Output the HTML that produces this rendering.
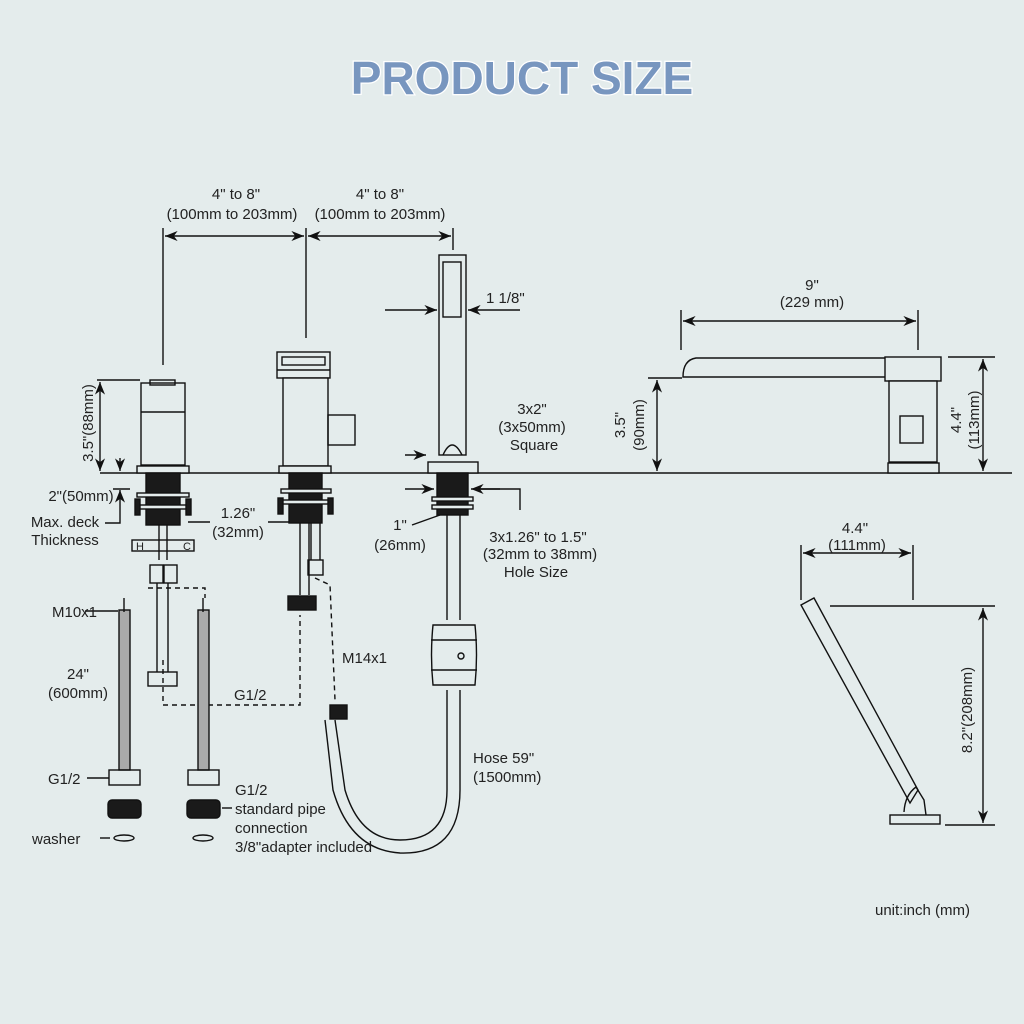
<!DOCTYPE html>
<html><head><meta charset="utf-8"><style>
html,body{margin:0;padding:0;background:#e4ecec}
svg{display:block}
text{font-family:"Liberation Sans",sans-serif;fill:#222;font-size:15px}
</style></head><body>
<svg width="1024" height="1024" viewBox="0 0 1024 1024" xmlns="http://www.w3.org/2000/svg">
<defs>
<marker id="a" viewBox="0 0 10 10" refX="10" refY="5" markerWidth="9" markerHeight="9" orient="auto-start-reverse"><path d="M0,1 L10,5 L0,9 L3,5z" fill="#111"/></marker>
</defs>
<rect width="1024" height="1024" fill="#e4ecec"/>
<text x="522" y="94" text-anchor="middle" style="font-size:46px;font-weight:bold;fill:#7896bf;stroke:#fff;stroke-width:2.5;paint-order:stroke">PRODUCT SIZE</text>

<g stroke="#111" stroke-width="1.4" fill="none">
<line x1="100" y1="473" x2="1012" y2="473"/>
<line x1="163" y1="228" x2="163" y2="365"/>
<line x1="306" y1="228" x2="306" y2="338"/>
<line x1="453" y1="228" x2="453" y2="250"/>
<line x1="165" y1="236" x2="304" y2="236" marker-start="url(#a)" marker-end="url(#a)"/>
<line x1="308" y1="236" x2="451" y2="236" marker-start="url(#a)" marker-end="url(#a)"/>
<rect x="141" y="383" width="44" height="82" fill="#e4ecec"/>
<line x1="141" y1="412" x2="185" y2="412"/>
<rect x="150" y="380" width="25" height="5"/>
<rect x="137" y="466" width="52" height="7" fill="#e4ecec"/>
<rect x="146" y="473" width="34" height="52" fill="#1a1a1a"/>
<rect x="137" y="493" width="52" height="4" fill="#e4ecec"/>
<rect x="137" y="505" width="52" height="4" fill="#e4ecec"/>
<rect x="135" y="499" width="5" height="16" fill="#1a1a1a"/><rect x="186" y="499" width="5" height="16" fill="#1a1a1a"/>
<rect x="132" y="540" width="62" height="11"/>
<text x="136" y="550" style="font-size:11px;stroke:none">H</text><text x="183" y="550" style="font-size:11px;stroke:none">C</text>
<line x1="159" y1="525" x2="159" y2="560"/><line x1="167" y1="525" x2="167" y2="560"/>
<rect x="150" y="565" width="13" height="18"/><rect x="164" y="565" width="13" height="18"/>
<line x1="157" y1="583" x2="157" y2="672"/><line x1="168" y1="583" x2="168" y2="672"/>
<rect x="148" y="672" width="29" height="14"/>
<line x1="97" y1="380" x2="140" y2="380"/>
<line x1="100" y1="382" x2="100" y2="471" marker-start="url(#a)" marker-end="url(#a)"/>
<line x1="120" y1="458" x2="120" y2="471" marker-end="url(#a)"/>
<line x1="120" y1="504" x2="120" y2="490" marker-end="url(#a)"/>
<line x1="113" y1="489" x2="130" y2="489"/>
<polyline points="120,504 120,523 105,523"/>
<line x1="188" y1="522" x2="210" y2="522"/><line x1="268" y1="522" x2="290" y2="522"/>
<rect x="277" y="352" width="53" height="26" fill="#e4ecec"/>
<rect x="282" y="357" width="43" height="8"/><line x1="277" y1="370" x2="330" y2="370"/>
<rect x="283" y="378" width="45" height="88" fill="#e4ecec"/>
<rect x="328" y="415" width="27" height="30"/>
<rect x="279" y="466" width="52" height="7" fill="#e4ecec"/>
<rect x="289" y="473" width="33" height="50" fill="#1a1a1a"/>
<rect x="281" y="489" width="50" height="4" fill="#e4ecec"/>
<rect x="281" y="500" width="50" height="4" fill="#e4ecec"/>
<rect x="278" y="498" width="5" height="16" fill="#1a1a1a"/><rect x="328" y="498" width="5" height="16" fill="#1a1a1a"/>
<line x1="300" y1="523" x2="300" y2="595"/><line x1="309" y1="523" x2="309" y2="595"/>
<rect x="288" y="596" width="28" height="14" fill="#1a1a1a"/>
<line x1="311" y1="523" x2="311" y2="560"/><line x1="320" y1="523" x2="320" y2="560"/>
<rect x="308" y="560" width="15" height="15"/>
<rect x="439" y="255" width="27" height="200" fill="#e4ecec"/>
<rect x="443" y="262" width="18" height="55"/>
<path d="M443,455 Q452,435 462,455"/>
<rect x="428" y="462" width="50" height="11" fill="#e4ecec"/>
<rect x="437" y="473" width="31" height="42" fill="#1a1a1a"/>
<rect x="432" y="497" width="41" height="4" fill="#e4ecec"/>
<rect x="432" y="505" width="41" height="4" fill="#e4ecec"/>
<line x1="447" y1="515" x2="447" y2="620"/><line x1="460" y1="515" x2="460" y2="620"/>
<path d="M433,625 Q430,655 433,685 L475,685 Q478,655 475,625 Z" fill="#e4ecec"/>
<line x1="431" y1="640" x2="477" y2="640"/><line x1="431" y1="670" x2="477" y2="670"/>
<circle cx="461" cy="656" r="3"/>
<path d="M447,690 L447,790 Q447,840 400,840 Q360,840 345,790 L335,720"/>
<path d="M460,690 L460,790 Q460,855 400,853 Q350,850 333,790 L325,720"/>
<rect x="330" y="705" width="17" height="14" fill="#1a1a1a"/>
<line x1="385" y1="310" x2="437" y2="310" marker-end="url(#a)"/>
<line x1="520" y1="310" x2="468" y2="310" marker-end="url(#a)"/>
<line x1="405" y1="455" x2="426" y2="455" marker-end="url(#a)"/>
<line x1="405" y1="489" x2="434" y2="489" marker-end="url(#a)"/>
<line x1="500" y1="489" x2="471" y2="489" marker-end="url(#a)"/>
<polyline points="480,489 520,489 520,510"/>
<line x1="412" y1="525" x2="440" y2="515"/>
<g stroke-dasharray="5,4">
<polyline points="148,588 205,588 205,598"/>
<polyline points="163,660 163,705 300,705 300,615"/>
<polyline points="315,578 330,585 335,700"/>
</g>
<rect x="119" y="610" width="11" height="160" fill="#aaa"/>
<rect x="198" y="610" width="11" height="160" fill="#aaa"/>
<line x1="124" y1="598" x2="124" y2="612"/><line x1="203" y1="598" x2="203" y2="612"/>
<rect x="109" y="770" width="31" height="15"/><rect x="188" y="770" width="31" height="15"/>
<line x1="87" y1="778" x2="109" y2="778"/><line x1="85" y1="611" x2="118" y2="611"/>
<rect x="108" y="800" width="33" height="18" rx="4" fill="#1a1a1a"/>
<rect x="187" y="800" width="33" height="18" rx="4" fill="#1a1a1a"/>
<ellipse cx="124" cy="838" rx="10" ry="3"/><ellipse cx="203" cy="838" rx="10" ry="3"/>
<line x1="100" y1="838" x2="110" y2="838"/>
<line x1="222" y1="808" x2="232" y2="808"/>
<line x1="681" y1="310" x2="681" y2="350"/><line x1="918" y1="310" x2="918" y2="350"/>
<line x1="683" y1="321" x2="916" y2="321" marker-start="url(#a)" marker-end="url(#a)"/>
<path d="M885,358 L696,358 Q683,360 683,377 L885,377"/>
<rect x="885" y="357" width="56" height="24" fill="#e4ecec"/>
<rect x="889" y="381" width="48" height="81" fill="#e4ecec"/>
<rect x="900" y="416" width="23" height="27"/>
<rect x="888" y="463" width="51" height="10" fill="#e4ecec"/>
<line x1="648" y1="378" x2="682" y2="378"/>
<line x1="657" y1="380" x2="657" y2="471" marker-start="url(#a)" marker-end="url(#a)"/>
<line x1="948" y1="357" x2="995" y2="357"/>
<line x1="983" y1="359" x2="983" y2="471" marker-start="url(#a)" marker-end="url(#a)"/>
<line x1="801" y1="545" x2="801" y2="600"/><line x1="913" y1="545" x2="913" y2="600"/>
<line x1="803" y1="553" x2="911" y2="553" marker-start="url(#a)" marker-end="url(#a)"/>
<path d="M801,605 L814,598 L918,790 L910,803 Z" fill="#e4ecec"/>
<path d="M904,812 Q905,795 916,787 L924,800 L926,815"/>
<rect x="890" y="815" width="50" height="9" fill="#e4ecec"/>
<line x1="830" y1="606" x2="995" y2="606"/>
<line x1="945" y1="825" x2="995" y2="825"/>
<line x1="983" y1="608" x2="983" y2="823" marker-start="url(#a)" marker-end="url(#a)"/>
</g>

<g>
<text x="236" y="199" text-anchor="middle">4" to 8"</text>
<text x="232" y="219" text-anchor="middle">(100mm to 203mm)</text>
<text x="380" y="199" text-anchor="middle">4" to 8"</text>
<text x="380" y="219" text-anchor="middle">(100mm to 203mm)</text>
<text x="486" y="303">1 1/8"</text>
<text x="532" y="414" text-anchor="middle">3x2"</text>
<text x="532" y="432" text-anchor="middle">(3x50mm)</text>
<text x="534" y="450" text-anchor="middle">Square</text>
<text x="81" y="501" text-anchor="middle">2"(50mm)</text>
<text x="65" y="527" text-anchor="middle">Max. deck</text>
<text x="65" y="545" text-anchor="middle">Thickness</text>
<text x="238" y="518" text-anchor="middle">1.26"</text>
<text x="238" y="537" text-anchor="middle">(32mm)</text>
<text x="400" y="530" text-anchor="middle">1"</text>
<text x="400" y="550" text-anchor="middle">(26mm)</text>
<text x="538" y="542" text-anchor="middle">3x1.26" to 1.5"</text>
<text x="540" y="559" text-anchor="middle">(32mm to 38mm)</text>
<text x="536" y="577" text-anchor="middle">Hole Size</text>
<text x="52" y="617">M10x1</text>
<text x="78" y="679" text-anchor="middle">24"</text>
<text x="78" y="698" text-anchor="middle">(600mm)</text>
<text x="234" y="700">G1/2</text>
<text x="342" y="663">M14x1</text>
<text x="473" y="763">Hose 59"</text>
<text x="473" y="782">(1500mm)</text>
<text x="48" y="784">G1/2</text>
<text x="235" y="795">G1/2</text>
<text x="235" y="814">standard pipe</text>
<text x="235" y="833">connection</text>
<text x="235" y="852">3/8"adapter included</text>
<text x="32" y="844">washer</text>
<text x="812" y="290" text-anchor="middle">9"</text>
<text x="812" y="307" text-anchor="middle">(229 mm)</text>
<text x="855" y="533" text-anchor="middle">4.4"</text>
<text x="857" y="550" text-anchor="middle">(111mm)</text>
<text x="875" y="915" style="font-size:15px">unit:inch (mm)</text>
<text transform="translate(93,423) rotate(-90)" text-anchor="middle">3.5"(88mm)</text>
<text transform="translate(625,425) rotate(-90)" text-anchor="middle">3.5"</text>
<text transform="translate(644,425) rotate(-90)" text-anchor="middle">(90mm)</text>
<text transform="translate(961,420) rotate(-90)" text-anchor="middle">4.4"</text>
<text transform="translate(979,420) rotate(-90)" text-anchor="middle">(113mm)</text>
<text transform="translate(972,710) rotate(-90)" text-anchor="middle">8.2"(208mm)</text>
</g>
</svg>
</body></html>
